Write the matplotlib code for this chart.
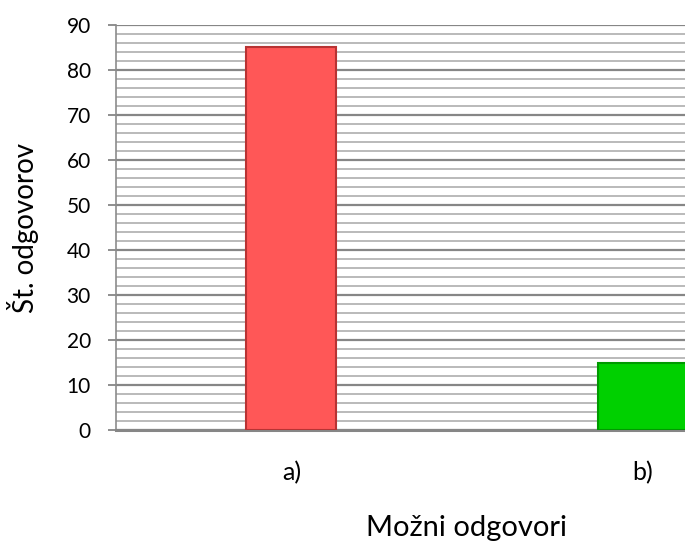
import numpy as np
import matplotlib.pyplot as plt
from matplotlib.ticker import MultipleLocator

# data
kategorije = ['a)', 'b)']
odgovori = [85, 15]
barve = ['#FF5757', '#00D000']
robovi = ['#B83333', '#009A00']

plt.rcParams['font.family'] = ['Lato', 'DejaVu Sans']

fig = plt.figure(figsize=(6.85, 5.43), dpi=100)
ax = fig.add_axes([0.169, 0.208, 0.831, 0.746])

x = np.arange(len(kategorije))
ax.bar(x, odgovori, width=0.256, color=barve, edgecolor=robovi, linewidth=1.5, zorder=3)

ax.set_xlim(-0.5, 1.12)
ax.set_ylim(0, 90)
ax.yaxis.set_major_locator(MultipleLocator(10))
ax.yaxis.set_minor_locator(MultipleLocator(2))
ax.grid(which='major', axis='y', color='#868686', linewidth=1.6, zorder=1)
ax.grid(which='minor', axis='y', color='#B4B4B4', linewidth=1.3, zorder=1)

ax.set_xticks(x)
ax.set_xticklabels(kategorije, fontsize=18)
ax.tick_params(axis='x', length=0, pad=22)
ax.tick_params(axis='y', which='major', length=6, width=1.3, color='#868686', labelsize=15, pad=12)
ax.tick_params(axis='y', which='minor', length=0)

for s in ['top', 'right']:
    ax.spines[s].set_visible(False)
ax.spines['left'].set_color('#8C8C8C')
ax.spines['left'].set_linewidth(1.2)
ax.spines['bottom'].set_color('#868686')
ax.spines['bottom'].set_linewidth(2.2)

ax.set_ylabel('Št. odgovorov', fontsize=20, labelpad=20)
ax.set_xlabel('Možni odgovori', fontsize=21)
# os se v izvirniku nadaljuje desno, zato je napis na sredini med kategorijama
ax.xaxis.set_label_coords(0.617, -0.21)

fig.savefig('out.png', dpi=100)
